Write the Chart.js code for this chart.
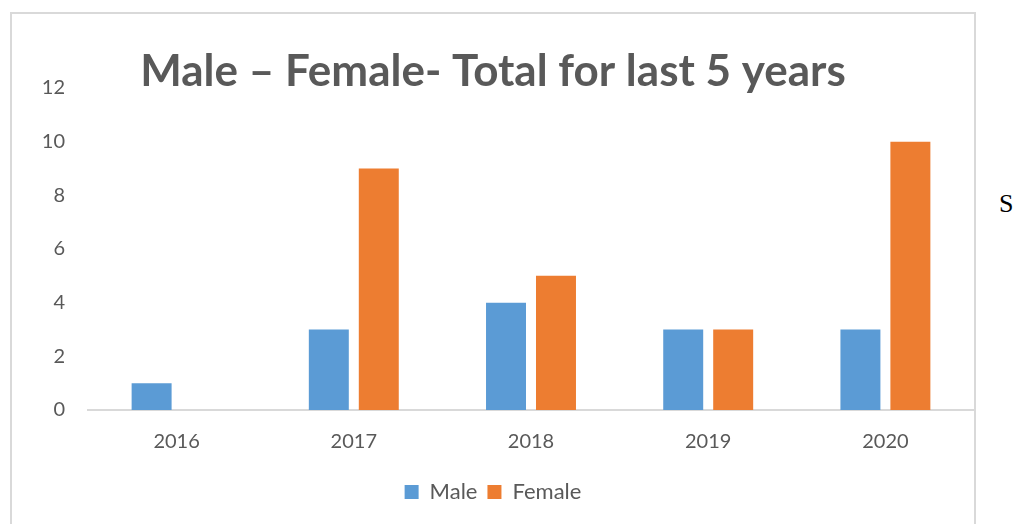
<!DOCTYPE html>
<html>
<head>
<meta charset="utf-8">
<script src="https://cdn.jsdelivr.net/npm/chart.js@4/dist/chart.umd.min.js"></script>
<style>
  html, body { margin: 0; padding: 0; background: #ffffff; overflow: hidden; }
  body { width: 1013px; height: 524px; position: relative; }
  #box { position: absolute; left: 10px; top: 12px; width: 962px; height: 530px; border: 2px solid #d9d9d9; box-sizing: content-box; }
  #wrap { position: absolute; left: 0; top: 0; width: 962px; height: 510px; }
  #side { position: absolute; left: 999px; top: 189px; font-family: "Liberation Serif", "DejaVu Serif", serif; font-size: 26px; color: #000; }
</style>
</head>
<body>
<div id="box"><div id="wrap"><canvas id="c"></canvas></div></div>
<div id="side">S</div>
<script>
const categories = ["2016", "2017", "2018", "2019", "2020"];
const maleValues = [1, 3, 4, 3, 3];
const femaleValues = [0, 9, 5, 3, 10];
const chartTitle = "Male – Female- Total for last 5 years";
const yTickMin = 0, yTickMax = 12, yTickStep = 2;

const textColor = "#595959";
new Chart(document.getElementById("c"), {
  type: "bar",
  data: {
    labels: categories,
    datasets: [
      { label: "Male", data: maleValues, backgroundColor: "#5b9bd5", categoryPercentage: 0.564, barPercentage: 0.8 },
      { label: "Female", data: femaleValues, backgroundColor: "#ed7d31", categoryPercentage: 0.564, barPercentage: 0.8 }
    ]
  },
  options: {
    responsive: true,
    maintainAspectRatio: false,
    animation: false,
    layout: { padding: { left: 0, right: 0, top: 0, bottom: 11 } },
    plugins: {
      title: {
        display: true,
        text: chartTitle,
        color: textColor,
        font: { family: "Lato", size: 44, weight: "bold", lineHeight: 1.0 },
        padding: { top: 36, bottom: -6 }
      },
      legend: {
        position: "bottom",
        labels: {
          color: textColor,
          font: { family: "Lato", size: 22 },
          boxWidth: 14, boxHeight: 14, padding: 10
        }
      },
      tooltip: { enabled: false }
    },
    scales: {
      x: {
        grid: { display: false, drawTicks: false },
        border: { display: true, color: "#d9d9d9", width: 2 },
        ticks: { color: textColor, font: { family: "Lato", size: 20 }, padding: 20 },
        afterFit: s => { s.height = 61; }
      },
      y: {
        min: yTickMin, max: yTickMax,
        grid: { display: false, drawTicks: false },
        border: { display: false },
        ticks: { stepSize: yTickStep, color: textColor, font: { family: "Lato", size: 20 }, padding: 23 },
        afterFit: s => { s.width = 76; }
      }
    }
  }
});
</script>
</body>
</html>
